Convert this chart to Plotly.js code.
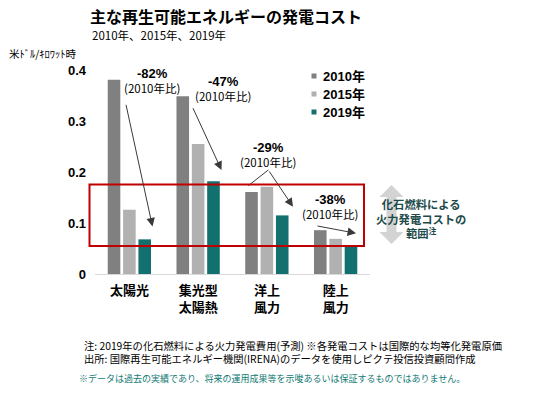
<!DOCTYPE html>
<html>
<head>
<meta charset="utf-8">
<script src="https://cdn.plot.ly/plotly-3.0.1.min.js"></script>
<style>html,body{margin:0;padding:0;background:#fff;}#chart{width:539px;height:394px;}</style>
</head>
<body>
<div id="chart"></div>
<script>
// ---- data ----
const categories = ['太陽光', '集光型<br>太陽熱', '洋上<br>風力', '陸上<br>風力'];
const seriesNames = ['2010年', '2015年', '2019年'];
const v2010 = [0.381, 0.349, 0.161, 0.086];
const v2015 = [0.126, 0.255, 0.171, 0.069];
const v2019 = [0.068, 0.182, 0.115, 0.053];
const yTickVals = [0, 0.1, 0.2, 0.3, 0.4];
const yTickText = ['0', '0.1', '0.2', '0.3', '0.4'];
const changeLabels = ['-82%', '-47%', '-29%', '-38%'];
const baseLabel = '(2010年比)';
const titleText = '主な再生可能エネルギーの発電コスト';
const subtitleText = '2010年、2015年、2019年';
const unitText = '米ﾄﾞﾙ/ｷﾛﾜｯﾄ時';
const rangeText = ['化石燃料による', '火力発電コストの', '範囲<sup>注</sup>'];
const footer1 = '注: 2019年の化石燃料による火力発電費用(予測) ※各発電コストは国際的な均等化発電原価';
const footer2 = '出所: 国際再生可能エネルギー機関(IRENA)のデータを使用しピクテ投信投資顧問作成';
const footer3 = '※データは過去の実績であり、将来の運用成果等を示唆あるいは保証するものではありません。';

// ---- styles ----
const colors = ['#808080', '#b1b1b1', '#12706e'];
const JP = '"Noto Sans CJK JP", sans-serif';
const NUM = '"Liberation Sans", "Noto Sans CJK JP", sans-serif';
const M = {l: 95, r: 169, t: 60, b: 120};
const W = 539, H = 394;
const pw = W - M.l - M.r, ph = H - M.t - M.b;
const px = x => (x - M.l) / pw;
const py = y => (H - M.b - y) / ph;

const traces = [v2010, v2015, v2019].map((vals, i) => ({
  type: 'bar', name: seriesNames[i], x: categories, y: vals,
  marker: {color: colors[i]}, hoverinfo: 'skip', showlegend: false
}));

const ann = [];
const shapes = [];
function txt(x, y, text, size, opts) {
  ann.push(Object.assign({xref: 'paper', yref: 'paper', x: px(x), y: py(y), text: text,
    showarrow: false, xanchor: 'center', yanchor: 'middle',
    font: {family: JP, size: size, color: '#000'}}, opts || {}));
}
function arrow(hx, hy, tx, ty) {
  ann.push({xref: 'paper', yref: 'paper', x: px(hx), y: py(hy), ax: tx - hx, ay: ty - hy,
    axref: 'pixel', ayref: 'pixel', text: '', showarrow: true, arrowhead: 2, arrowsize: 1.7,
    arrowwidth: 1, arrowcolor: '#3a3a3a', standoff: 0});
}

// subtitle & unit
txt(90, 34.5, subtitleText, 11.5, {xanchor: 'left'});
txt(7, 53, unitText, 10.5, {xanchor: 'left'});

// change annotations (two-line blocks)
const changePos = [[151.5, 81], [222.5, 88.5], [268, 154.5], [330, 206.5]];
changePos.forEach((p, i) => {
  txt(p[0], p[1],
    '<span style="font-family:Liberation Sans;font-weight:bold;font-size:13px">' + changeLabels[i] + '</span><br>' + baseLabel,
    11.5, {font: {family: JP, size: 11.5, color: '#000'}});
});
arrow(152.5, 226.5, 125.7, 103.3);
arrow(221.5, 170, 192.3, 106.7);
arrow(293, 206.7, 268.3, 170);
arrow(356, 233.3, 316, 225.7);
shapes.push({type: 'line', xref: 'paper', yref: 'paper', x0: px(248.3), y0: py(185.7), x1: px(268.3), y1: py(170),
  line: {color: '#3a3a3a', width: 1}});

// red range rectangle
shapes.push({type: 'rect', xref: 'paper', yref: 'paper', x0: px(89.5), x1: px(364), y0: py(246), y1: py(184.5),
  line: {color: '#c00000', width: 2}, fillcolor: 'rgba(0,0,0,0)'});

// gray double arrow
(function () {
  const cx = 391.5, top = 185, bot = 244, hw = 12, sw = 5, hl = 12;
  const pts = [[cx, top], [cx + hw, top + hl], [cx + sw, top + hl], [cx + sw, bot - hl], [cx + hw, bot - hl],
    [cx, bot], [cx - hw, bot - hl], [cx - sw, bot - hl], [cx - sw, top + hl], [cx - hw, top + hl]];
  const path = 'M' + pts.map(p => px(p[0]) + ',' + py(p[1])).join(' L') + ' Z';
  shapes.push({type: 'path', xref: 'paper', yref: 'paper', path: path, fillcolor: '#d3d3d3', line: {width: 0}, layer: 'below'});
})();
txt(421, 218, '<b>' + rangeText.join('<br>') + '</b>', 11.3, {font: {family: JP, size: 11.3, color: '#1d4a4a'}});

// custom legend
seriesNames.forEach((n, i) => {
  const cy = 76 + i * 18;
  shapes.push({type: 'rect', xref: 'paper', yref: 'paper', x0: px(311.5), x1: px(316.5), y0: py(cy + 2.5), y1: py(cy - 2.5),
    fillcolor: colors[i], line: {width: 0}});
  txt(321, cy, '<b>' + n + '</b>', 13, {xanchor: 'left', font: {family: NUM, size: 13, color: '#000'}});
});

// footer
txt(82, 352, footer1 + '<br>' + footer2, 10.3, {xanchor: 'left', align: 'left'});
txt(77, 378, footer3, 9, {xanchor: 'left', font: {family: JP, size: 9, color: '#127a74'}});

const layout = {
  width: W, height: H, margin: M, paper_bgcolor: '#fff', plot_bgcolor: '#fff',
  title: {text: '<b>' + titleText + '</b>', xref: 'container', yref: 'container', x: 90 / W, xanchor: 'left',
    y: 1 - 17 / H, yanchor: 'middle', font: {family: JP, size: 16, color: '#000'}},
  barmode: 'group', bargap: 0.33, bargroupgap: 0.18,
  xaxis: {type: 'category', range: [-0.5, 3.5], showline: true, linecolor: '#d9d9d9', linewidth: 1,
    ticks: '', showgrid: false, zeroline: false, ticklabelstandoff: 4,
    tickfont: {family: JP, size: 13, color: '#000', weight: 'bold'}},
  yaxis: {range: [0, 0.42], showline: false, showgrid: false, zeroline: false, ticks: '',
    tickvals: yTickVals, ticktext: yTickText, ticklabelstandoff: 8,
    tickfont: {family: NUM, size: 13, color: '#000', weight: 'bold'}},
  annotations: ann, shapes: shapes, showlegend: false
};
Plotly.newPlot('chart', traces, layout, {staticPlot: true});
</script>
</body>
</html>
